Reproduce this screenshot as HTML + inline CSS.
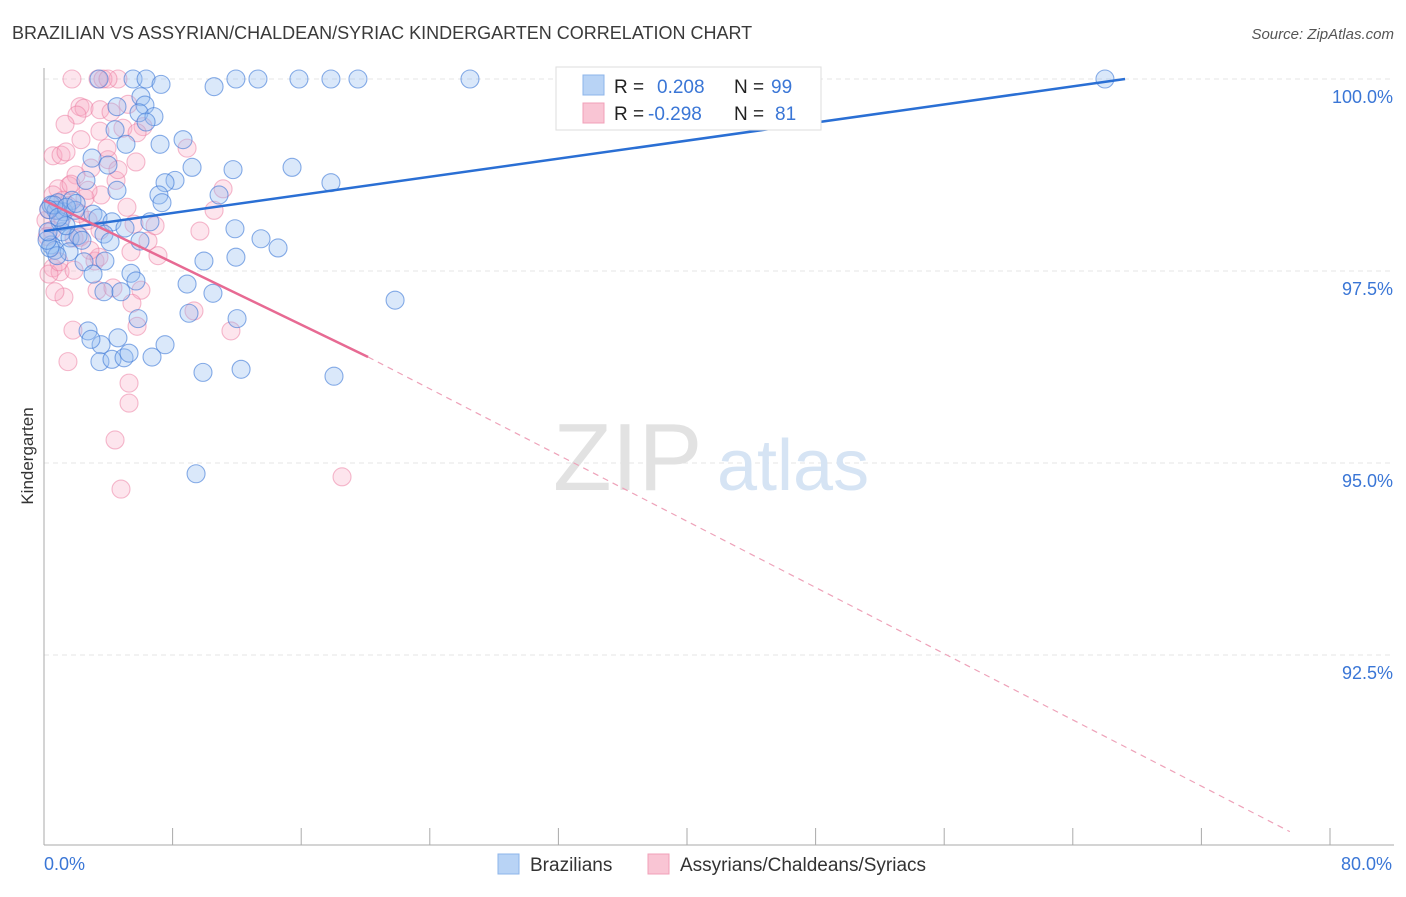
<!DOCTYPE html>
<html><head><meta charset="utf-8"><style>
body{margin:0;background:#fff;font-family:"Liberation Sans",sans-serif;}
svg text{font-family:"Liberation Sans",sans-serif;}
</style></head><body>
<svg id="chart" width="1406" height="892" viewBox="0 0 1406 892" xmlns="http://www.w3.org/2000/svg">
<text x="12" y="39" font-size="18" fill="#3a3a3a">BRAZILIAN VS ASSYRIAN/CHALDEAN/SYRIAC KINDERGARTEN CORRELATION CHART</text>
<text x="1394" y="39" font-size="15" fill="#555" text-anchor="end" font-style="italic">Source: ZipAtlas.com</text>
<text transform="translate(33,456) rotate(-90)" font-size="17" fill="#333" text-anchor="middle">Kindergarten</text>
<g id="grid"></g>
<g id="watermark">
<text x="553" y="490" font-size="96" fill="#e2e2e2" font-family="Liberation Serif">ZIP</text>
<text x="717" y="490" font-size="72" fill="#d6e4f4">atlas</text>
</g>
<g id="axes"></g>
<g id="pinkpts"></g>
<g id="bluepts"></g>
<g id="lines"></g>
<g>
<rect x="556" y="67" width="265" height="63" fill="#fff" stroke="#ddd"/>
<rect x="583" y="75" width="21" height="20" fill="#b8d3f5" stroke="#8db5ea"/>
<rect x="583" y="103" width="21" height="20" fill="#f9c5d4" stroke="#f1a0b8"/>
<text x="614" y="93" font-size="19" fill="#222">R = <tspan fill="#3a76d6" x="657">0.208</tspan><tspan x="734" fill="#222">N = </tspan><tspan fill="#3a76d6" x="771">99</tspan></text>
<text x="614" y="120" font-size="19" fill="#222">R = <tspan fill="#3a76d6" x="648">-0.298</tspan><tspan x="734" fill="#222">N = </tspan><tspan fill="#3a76d6" x="775">81</tspan></text>
</g>
<g>
<rect x="498" y="854" width="21" height="20" fill="#b8d3f5" stroke="#8db5ea"/>
<text x="530" y="871" font-size="19" fill="#333">Brazilians</text>
<rect x="648" y="854" width="21" height="20" fill="#f9c5d4" stroke="#f1a0b8"/>
<text x="680" y="871" font-size="19" fill="#333">Assyrians/Chaldeans/Syriacs</text>
</g>
</svg>
<script>
const yTicks=[100,97.5,95,92.5];
const yTickLabels=["100.0%","97.5%","95.0%","92.5%"];
const xTickLabels=["0.0%","80.0%"];
const blueX=[5.54,6.35,7.28,11.94,13.31,15.86,17.85,19.53,26.5,66.0,10.58,3.42,6.03,6.28,4.54,5.91,6.84,6.35,4.42,5.10,7.22,8.65,2.99,3.98,9.21,11.76,15.43,8.15,7.53,2.61,4.54,7.15,10.89,7.34,17.85,0.44,0.87,1.24,1.74,1.93,3.05,3.36,4.23,6.59,5.04,1.12,1.62,2.12,2.36,3.73,4.11,0.44,0.68,1.56,0.81,2.49,3.79,3.05,5.41,5.72,8.90,10.51,9.95,11.94,13.50,14.56,11.88,3.73,4.79,21.84,2.74,4.60,5.85,3.55,2.92,3.48,4.23,4.98,5.29,6.72,7.53,9.02,12.01,9.89,12.26,18.04,9.46,0.37,0.19,0.75,1.0,1.37,5.97,0.25,0.6,0.3,1.4,2.0,0.9];
const blueY=[100,100,99.93,100,100,100,100,100,100,100,99.90,100,99.77,99.66,99.64,99.56,99.51,99.44,99.34,99.15,99.15,99.21,98.97,98.88,98.85,98.82,98.85,98.68,98.65,98.68,98.55,98.49,98.49,98.39,98.65,98.36,98.39,98.27,98.42,98.29,98.24,98.19,98.14,98.14,98.06,98.01,97.93,97.96,97.90,97.98,97.88,97.84,97.77,97.75,97.70,97.62,97.63,97.46,97.47,97.37,97.33,97.21,97.63,97.68,97.92,97.80,98.05,97.23,97.23,97.12,96.72,96.63,96.88,96.54,96.61,96.32,96.35,96.37,96.43,96.38,96.54,96.95,96.88,96.18,96.22,96.13,94.86,97.80,97.90,98.29,98.14,98.09,97.89,98.01,98.36,98.30,98.33,98.38,98.20];
const pinkX=[1.74,3.36,4.60,3.67,3.98,2.24,2.49,3.48,4.17,2.05,5.23,1.31,3.48,2.30,0.56,1.06,1.37,3.98,5.72,8.90,2.92,4.48,1.99,1.56,0.87,0.56,1.68,3.55,11.14,5.16,10.58,6.16,0.75,1.12,2.74,3.48,1.87,2.24,5.60,6.47,6.91,9.70,0.56,1.0,1.87,0.31,3.17,3.42,5.41,7.09,1.24,3.30,4.29,6.03,5.47,5.79,9.33,11.63,1.80,1.49,5.29,5.29,4.42,4.79,18.54,0.68,0.12,0.50,0.93,2.86,1.18,2.55,4.91,5.79,3.92,4.60,2.74,0.3,1.5,2.2,0.2];
const pinkY=[100,100,100,100,100,99.64,99.62,99.60,99.57,99.53,99.67,99.41,99.32,99.21,99.00,99.01,99.05,98.95,98.92,99.10,98.84,98.68,98.75,98.61,98.57,98.49,98.63,98.49,98.57,98.33,98.29,99.38,98.29,98.20,98.16,98.03,97.93,97.94,98.11,97.89,98.09,98.02,97.54,97.49,97.51,97.46,97.63,97.68,97.75,97.70,97.16,97.25,97.28,97.25,97.08,96.78,96.98,96.72,96.73,96.32,96.04,95.78,95.30,94.66,94.82,97.23,98.16,98.03,97.62,97.77,98.42,98.45,99.36,99.30,99.10,98.82,98.55,98.30,98.35,98.25,97.95];
const blueTrend=[0,98.02,67.25,100];
const pinkTrend=[0,98.42,20.16,96.38,77.5,90.2];
const X0=44,XS=16.075,Y0=79,YS=76.8;
const sx=v=>X0+v*XS, sy=v=>Y0+(100-v)*YS;
const NS="http://www.w3.org/2000/svg";
function mk(tag,parent,attrs){const e=document.createElementNS(NS,tag);for(const k in attrs)e.setAttribute(k,attrs[k]);document.getElementById(parent).appendChild(e);return e;}
yTicks.forEach((t,i)=>{
 const l=mk('line','grid',{x1:44,x2:1394,y1:sy(t),y2:sy(t),stroke:'#e4e4e4','stroke-dasharray':'5,4'});
 
 
 const tx=mk('text','grid',{x:1393,y:sy(t)+24,'font-size':18,fill:'#3a76d6','text-anchor':'end'});
 tx.textContent=yTickLabels[i];
 
 
});
const ax=mk('line','axes',{x1:44,x2:44,y1:68,y2:845,stroke:'#aaa'});


const bx=mk('line','axes',{x1:44,x2:1394,y1:845,y2:845,stroke:'#aaa'});


for(let i=0;i<=10;i++){const t=mk('line','axes',{x1:sx(i*8),x2:sx(i*8),y1:828,y2:845,stroke:'#aaa'});
 
 }
[[0,'start'],[80,'end']].forEach((p,i)=>{const t=mk('text','axes',{x:sx(p[0])+(i?62:0),y:870,'font-size':18,fill:'#3a76d6','text-anchor':p[1]});
 t.textContent=xTickLabels[i];
 
 });
pinkX.forEach((x,i)=>{const c=mk('circle','pinkpts',{cx:sx(x),cy:sy(pinkY[i]),r:9,fill:'rgba(247,170,195,0.3)',stroke:'rgba(236,120,158,0.5)','stroke-width':1.1});
 
 });
blueX.forEach((x,i)=>{const c=mk('circle','bluepts',{cx:sx(x),cy:sy(blueY[i]),r:9,fill:'rgba(150,190,240,0.35)',stroke:'rgba(60,120,215,0.6)','stroke-width':1.1});
 
 });
const bl=mk('line','lines',{x1:sx(blueTrend[0]),y1:sy(blueTrend[1]),x2:sx(blueTrend[2]),y2:sy(blueTrend[3]),stroke:'#2a6fd4','stroke-width':2.5});


const pl=mk('line','lines',{x1:sx(pinkTrend[0]),y1:sy(pinkTrend[1]),x2:sx(pinkTrend[2]),y2:sy(pinkTrend[3]),stroke:'#e76a93','stroke-width':2.5});


const pd=mk('line','lines',{x1:sx(pinkTrend[2]),y1:sy(pinkTrend[3]),x2:sx(pinkTrend[4]),y2:sy(pinkTrend[5]),stroke:'#eea2b9','stroke-width':1.2,'stroke-dasharray':'6,5'});


</script>
</body></html>
